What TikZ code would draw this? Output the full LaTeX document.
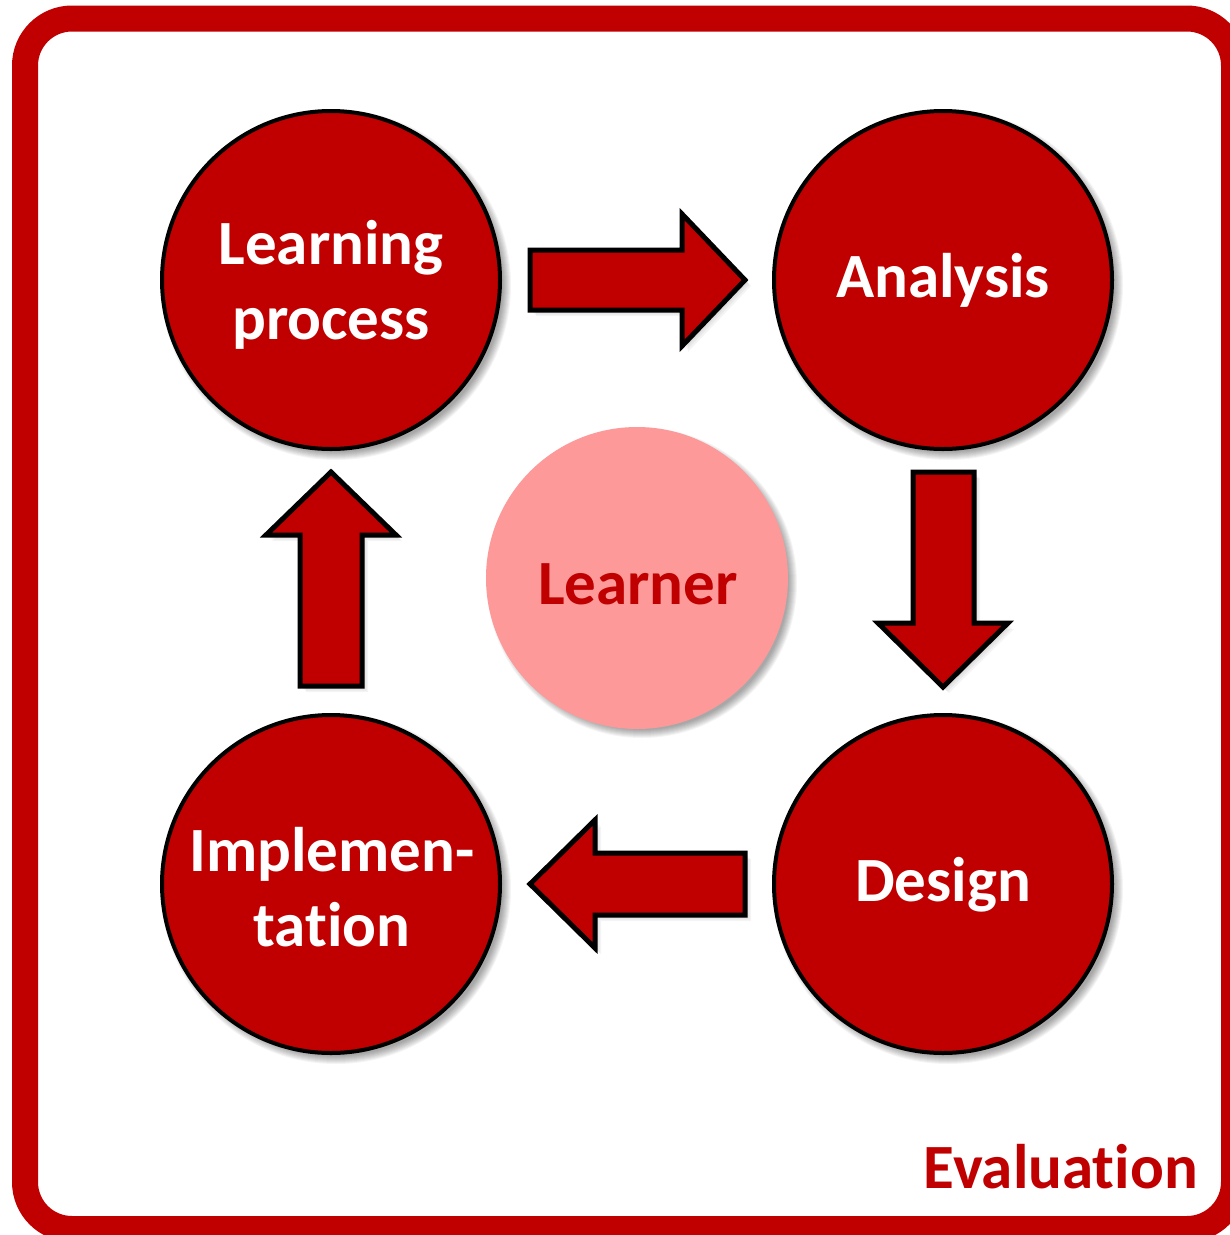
\documentclass[tikz,border=0pt]{standalone}
\usepackage{fontspec}
\setmainfont{Carlito}[Ligatures=NoCommon]
\definecolor{dred}{HTML}{C00000}
\definecolor{lpink}{HTML}{FD9999}
\tikzset{
  bigtext/.style={font=\bfseries\fontsize{63}{75}\selectfont, align=center, inner sep=0pt},
  stagecircle/.style={circle, draw=black, line width=4pt, fill=dred, minimum size=338pt, inner sep=0pt},
  learnercircle/.style={circle, fill=lpink, minimum size=302pt, inner sep=0pt},
  blockarrow/.style={draw=black, line width=5pt, fill=dred, line join=miter},
  softshadow/.style={fill=black, opacity=0.045},
}
\newcommand\circshadow[3]{%
  \foreach \k in {-4,...,4}{\fill[softshadow] (#1+5,#2+5) circle ({#3+\k});}}
\newcommand\arrshadow[1]{%
  \foreach \k in {1,...,4}{\fill[softshadow, shift={(\k*1.5,\k*1.5)}] #1;}}
\begin{document}
\begin{tikzpicture}[x=1pt,y=-1pt]
\useasboundingbox (0,0) rectangle (1230,1235);
\clip (0,0) rectangle (1230,1235);
\fill[white] (0,0) rectangle (1230,1235);
% frame
\draw[dred, line width=26pt, rounded corners=47pt] (25,18.5) rectangle (1234,1229);
% shadows
\circshadow{331}{280}{171}
\circshadow{943}{280}{171}
\circshadow{943}{884}{171}
\circshadow{331}{884}{171}
\circshadow{637}{578}{151}
\arrshadow{(530,250)--(682,250)--(682,214)--(745,280)--(682,346)--(682,310)--(530,310)--cycle}
\arrshadow{(913,472)--(974,472)--(974,623)--(1008,623)--(943,687)--(878,623)--(913,623)--cycle}
\arrshadow{(745,853)--(595,853)--(595,820)--(530,884)--(595,948)--(595,915)--(745,915)--cycle}
\arrshadow{(300,686)--(362,686)--(362,535)--(396,535)--(331,472)--(266,535)--(300,535)--cycle}
% circles
\node[stagecircle] (lp) at (331,280) {};
\node[stagecircle] (an) at (943,280) {};
\node[stagecircle] (de) at (943,884) {};
\node[stagecircle] (im) at (331,884) {};
\node[learnercircle] (le) at (637,578) {};
% arrows
\draw[blockarrow] (530,250)--(682,250)--(682,214)--(745,280)--(682,346)--(682,310)--(530,310)--cycle;
\draw[blockarrow] (913,472)--(974,472)--(974,623)--(1008,623)--(943,687)--(878,623)--(913,623)--cycle;
\draw[blockarrow] (745,853)--(595,853)--(595,820)--(530,884)--(595,948)--(595,915)--(745,915)--cycle;
\draw[blockarrow] (300,686)--(362,686)--(362,535)--(396,535)--(331,472)--(266,535)--(300,535)--cycle;
% texts
\node[bigtext, text=white] (lpt) at (331,285) {Learning\\process};
\node[bigtext, text=white] (ant) at (943,280) {Analysis};
\node[bigtext, text=white] (det) at (943,885) {Design};
\node[bigtext, text=white] (imt) at (332,887) {Implemen-\\tation};
\node[bigtext, text=dred] (let) at (638,584) {Learner};
\node[bigtext, text=dred, anchor=base east] (evt) at (1198,1188) {Evaluation};
\end{tikzpicture}
\end{document}
